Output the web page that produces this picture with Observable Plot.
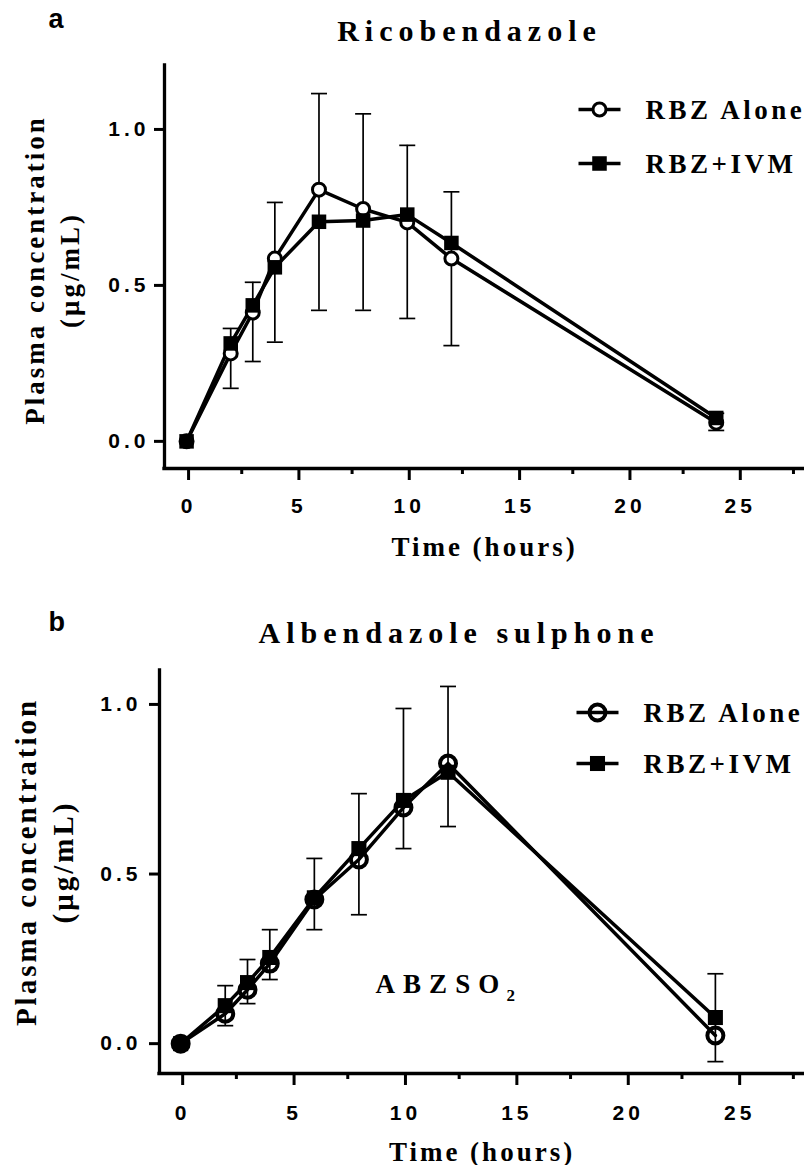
<!DOCTYPE html>
<html>
<head>
<meta charset="utf-8">
<script src="https://cdn.jsdelivr.net/npm/d3@7"></script>
<script src="https://cdn.jsdelivr.net/npm/@observablehq/plot@0.6"></script>
<style>
  body { margin: 0; background: #fff; }
  #chart { width: 804px; }
  #chart svg { display: block; }
  g[aria-label="x-axis tick label"], g[aria-label="y-axis tick label"] { letter-spacing: 4px; }
  text[aria-label="ttl"] { letter-spacing: 6px; }
  text[aria-label="leg"] { letter-spacing: 3.5px; }
  text[aria-label="axl"] { letter-spacing: 3px; }
  text[aria-label="ann"] { letter-spacing: 8px; }
</style>
</head>
<body>
<div id="chart"></div>
<script>
// ---------- data ----------
const hoursSampled = [0, 2, 3, 4, 6, 8, 10, 12, 24];
const seriesLabels = ["RBZ Alone", "RBZ+IVM"];
const xTicks = [0, 5, 10, 15, 20, 25];
const xMinorTicks = [2.5, 7.5, 12.5, 17.5, 22.5, 27.5];
const yTicks = [0, 0.5, 1.0];

// Panel a: Ricobendazole
const ricoAlone   = [0, 0.282, 0.413, 0.586, 0.807, 0.745, 0.702, 0.586, 0.060];
const ricoIvm     = [0, 0.314, 0.436, 0.558, 0.704, 0.708, 0.727, 0.636, 0.075];
const ricoErrLow  = [null, 0.170, 0.256, 0.318, 0.420, 0.420, 0.394, 0.307, 0.035];
const ricoErrHigh = [null, 0.362, 0.510, 0.766, 1.115, 1.050, 0.949, 0.800, 0.090];

// Panel b: Albendazole sulphone
const sulphAlone   = [0, 0.088, 0.159, 0.236, 0.425, 0.543, 0.696, 0.826, 0.024];
const sulphIvm     = [0, 0.112, 0.180, 0.254, 0.430, 0.575, 0.717, 0.800, 0.077];
const sulphErrLow  = [null, 0.053, 0.118, 0.189, 0.336, 0.380, 0.575, 0.640, -0.053];
const sulphErrHigh = [null, 0.171, 0.248, 0.336, 0.546, 0.737, 0.988, 1.053, 0.206];

const panelLetters = ["a", "b"];
const panelTitles = ["Ricobendazole", "Albendazole sulphone"];
const yLabelLines = ["Plasma concentration", "(\u03bcg/mL)"];
const xLabel = "Time (hours)";
const annotation = [{t: 8.75, v: 0.148, main: "ABZSO", sub: "2"}];

// ---------- helpers ----------
const SERIF = "Liberation Serif, 'Times New Roman', serif";
const SANS = "Liberation Sans, Arial, Helvetica, sans-serif";
const tag = name => () => name;
const hline = len => ({draw(ctx) { ctx.moveTo(-len / 2, 0); ctx.lineTo(len / 2, 0); }});

function drawPanel(cfg) {
  const aloneRows = hoursSampled.map((t, i) => ({t, v: cfg.alone[i], series: seriesLabels[0]}));
  const ivmRows = hoursSampled.map((t, i) => ({t, v: cfg.ivm[i], series: seriesLabels[1]}));
  const errRows = hoursSampled.map((t, i) => ({t, lo: cfg.lo[i], hi: cfg.hi[i]})).filter(d => d.lo != null);
  const symStyle = {
    [seriesLabels[0]]: {symbol: "circle", r: cfg.circleR, fill: cfg.circleFill, stroke: "black", strokeWidth: cfg.circleSW},
    [seriesLabels[1]]: {symbol: "square", r: cfg.squareR, fill: "black", stroke: "none"}
  };
  const marks = [
    // error bars
    Plot.ruleX(errRows, {x: "t", y1: "lo", y2: "hi", stroke: "black", strokeWidth: 1.7}),
    Plot.dot(errRows, {x: "t", y: "hi", symbol: hline(16), r: 1, fill: "none", stroke: "black", strokeWidth: 1.7}),
    Plot.dot(errRows, {x: "t", y: "lo", symbol: hline(16), r: 1, fill: "none", stroke: "black", strokeWidth: 1.7}),
    // lines
    Plot.line(ivmRows, {x: "t", y: "v", stroke: "black", strokeWidth: 3.5}),
    Plot.line(aloneRows, {x: "t", y: "v", stroke: "black", strokeWidth: 3.5}),
    // markers
    Plot.dot(aloneRows, {x: "t", y: "v", ...symStyle[seriesLabels[0]]}),
    Plot.dot(ivmRows, {x: "t", y: "v", ...symStyle[seriesLabels[1]]}),
    // axes
    Plot.ruleX([cfg.xDomain[0]], {stroke: "black", strokeWidth: 3.3, strokeLinecap: "square"}),
    Plot.ruleY([cfg.yDomain[0]], {stroke: "black", strokeWidth: 3.3, strokeLinecap: "square"}),
    Plot.axisX({ticks: xTicks, tickSize: 12, tickPadding: cfg.xTickPad, strokeWidth: 3, label: null,
      tickFormat: d => String(d), fontSize: 21, fontWeight: "bold", fontFamily: SANS, dx: 2}),
    Plot.axisX({ticks: xMinorTicks, tickSize: 6, tickPadding: 0, strokeWidth: 3, label: null, tickFormat: () => ""}),
    Plot.axisY({ticks: yTicks, tickSize: 10, tickPadding: cfg.yTickPad, strokeWidth: 3, label: null,
      tickFormat: d3.format(".1f"), fontSize: 21, fontWeight: "bold", fontFamily: SANS}),
    // panel letter
    Plot.text([cfg.letter], {text: d => d, frameAnchor: "top-left", dx: cfg.letterDx, dy: cfg.letterDy,
      textAnchor: "start", lineAnchor: "bottom", fontSize: 27, fontWeight: "bold", fontFamily: SANS}),
    // title
    Plot.text([cfg.title], {text: d => d, frameAnchor: "top", dx: cfg.titleDx, dy: cfg.titleDy,
      textAnchor: "middle", lineAnchor: "bottom", fontSize: 30, fontWeight: "bold", fontFamily: SERIF, ariaLabel: tag("ttl")}),
    // y label (two lines)
    Plot.text([yLabelLines[0]], {text: d => d, frameAnchor: "left", rotate: -90, dx: cfg.yLab1Dx, dy: cfg.yLabDy,
      textAnchor: "middle", lineAnchor: "bottom", fontSize: cfg.yLabSize, fontWeight: "bold", fontFamily: SERIF, ariaLabel: tag("axl")}),
    Plot.text([yLabelLines[1]], {text: d => d, frameAnchor: "left", rotate: -90, dx: cfg.yLab2Dx, dy: cfg.yLabDy,
      textAnchor: "middle", lineAnchor: "bottom", fontSize: cfg.yLabSize, fontWeight: "bold", fontFamily: SERIF, ariaLabel: tag("axl")}),
    // x label
    Plot.text([xLabel], {text: d => d, frameAnchor: "bottom", dx: 0, dy: cfg.xLabDy,
      textAnchor: "middle", lineAnchor: "bottom", fontSize: 27, fontWeight: "bold", fontFamily: SERIF, ariaLabel: tag("axl")})
  ];
  // legend
  seriesLabels.forEach((name, i) => {
    const dy = cfg.legendDy + i * cfg.legendGap;
    marks.push(Plot.dot([name], {frameAnchor: "top-left", dx: cfg.legendDx, dy, symbol: hline(42), r: 1,
      fill: "none", stroke: "black", strokeWidth: 3.5}));
    marks.push(Plot.dot([name], {frameAnchor: "top-left", dx: cfg.legendDx, dy, ...symStyle[name]}));
    marks.push(Plot.text([name], {text: d => d, frameAnchor: "top-left", dx: cfg.legendDx + 46, dy: dy + 1,
      textAnchor: "start", lineAnchor: "middle", fontSize: 27, fontWeight: "bold", fontFamily: SERIF, ariaLabel: tag("leg")}));
  });
  if (cfg.annotation) {
    marks.push(Plot.text(cfg.annotation, {x: "t", y: "v", text: "main", textAnchor: "start", lineAnchor: "bottom",
      fontSize: 27, fontWeight: "bold", fontFamily: SERIF, ariaLabel: tag("ann")}));
    marks.push(Plot.text(cfg.annotation, {x: "t", y: "v", text: "sub", textAnchor: "start", lineAnchor: "bottom",
      dx: 131, dy: 8, fontSize: 17, fontWeight: "bold", fontFamily: SERIF}));
  }
  return Plot.plot({
    width: 804, height: cfg.height,
    marginLeft: cfg.marginLeft, marginRight: 0, marginTop: cfg.marginTop, marginBottom: cfg.marginBottom,
    x: {domain: cfg.xDomain},
    y: {domain: cfg.yDomain},
    style: {background: "white", color: "black", overflow: "visible"},
    marks
  });
}

const chart = document.getElementById("chart");
chart.appendChild(drawPanel({
  letter: panelLetters[0], title: panelTitles[0],
  alone: ricoAlone, ivm: ricoIvm, lo: ricoErrLow, hi: ricoErrHigh,
  height: 583, marginLeft: 164, marginTop: 65, marginBottom: 115,
  xDomain: [-1, 28], yDomain: [-0.087, 1.205],
  xTickPad: 18, yTickPad: 5,
  circleR: 6.5, circleSW: 3, circleFill: "white", squareR: 8.2,
  letterDx: -116, letterDy: -38, titleDx: -15, titleDy: -25,
  yLab1Dx: -121, yLab2Dx: -86, yLabDy: 3, yLabSize: 27, xLabDy: 87,
  legendDx: 435, legendDy: 44, legendGap: 54
}));
chart.appendChild(drawPanel({
  letter: panelLetters[1], title: panelTitles[1],
  alone: sulphAlone, ivm: sulphIvm, lo: sulphErrLow, hi: sulphErrHigh,
  height: 582, marginLeft: 159, marginTop: 87, marginBottom: 92,
  xDomain: [-0.95, 28], yDomain: [-0.088, 1.1],
  xTickPad: 20, yTickPad: 8,
  circleR: 8, circleSW: 4, circleFill: "none", squareR: 8.5,
  letterDx: -111, letterDy: -40, titleDx: -23, titleDy: -28,
  yLab1Dx: -124, yLab2Dx: -87, yLabDy: -10, yLabSize: 29, xLabDy: 87,
  legendDx: 438, legendDy: 42, legendGap: 51,
  annotation
}));
</script>
</body>
</html>
